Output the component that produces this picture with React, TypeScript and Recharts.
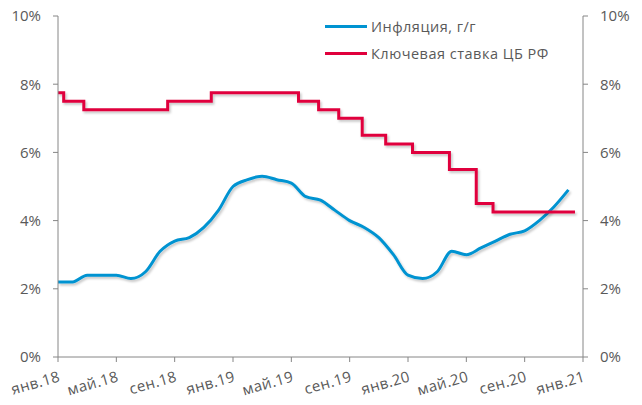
import React from "react";
import { LineChart, Line, XAxis, YAxis } from "recharts";

// Months since "янв.18" (end of Jan 2018)
const inflationMonths = [0,1,2,3,4,5,6,7,8,9,10,11,12,13,14,15,16,17,18,19,20,21,22,23,24,25,26,27,28,29,30,31,32,33,34,35];
const inflationValues = [2.2,2.2,2.4,2.4,2.4,2.3,2.5,3.1,3.4,3.5,3.8,4.3,5.0,5.2,5.3,5.2,5.1,4.7,4.6,4.3,4.0,3.8,3.5,3.0,2.4,2.3,2.5,3.1,3.0,3.2,3.4,3.6,3.7,4.0,4.4,4.9];

const keyRateMonths = [0,0.39,1.77,7.52,10.51,16.49,17.87,19.25,20.86,22.47,24.31,26.84,28.68,29.83,35.45];
const keyRateValues = [7.75,7.5,7.25,7.5,7.75,7.5,7.25,7.0,6.5,6.25,6.0,5.5,4.5,4.25,4.25];

const xTicks = [0,4,8,12,16,20,24,28,32,36];
const xTickLabels = ["янв.18","май.18","сен.18","янв.19","май.19","сен.19","янв.20","май.20","сен.20","янв.21"];
const yTicks = [0,2,4,6,8,10];

const seriesNames = ["Инфляция, г/г", "Ключевая ставка ЦБ РФ"];
const BLUE = "#0093D1";
const RED = "#E0003C";
const AXIS = "#868686";
const TEXT = "#595959";
const FONT = "'Open Sans', 'Noto Sans', sans-serif";

const inflationData = inflationMonths.map((m, i) => ({ x: m, v: inflationValues[i] }));
const keyRateData = keyRateMonths.map((m, i) => ({ x: m, v: keyRateValues[i] }));

const XTick = (props: any) => {
  const { x, y, payload } = props;
  const idx = xTicks.indexOf(payload.value);
  const label = idx >= 0 ? xTickLabels[idx] : "";
  const ax = x + 3;
  const ay = y + 19;
  return (
    <text
      x={ax}
      y={ay}
      transform={`rotate(-16, ${ax}, ${ay})`}
      textAnchor="end"
      fill={TEXT}
      fontSize={15}
      letterSpacing={0.4}
      fontFamily={FONT}
    >
      {label}
    </text>
  );
};

const LegendBox = () => (
  <div
    style={{
      position: "absolute",
      left: 325,
      top: 13,
      fontFamily: FONT,
      fontSize: 14.5,
      letterSpacing: 0.5,
      color: TEXT,
      pointerEvents: "none",
    }}
  >
    {[BLUE, RED].map((c, i) => (
      <div key={i} style={{ display: "flex", alignItems: "center", height: 27 }}>
        <div style={{ width: 42, height: 3, background: c, marginRight: 4 }} />
        <span>{seriesNames[i]}</span>
      </div>
    ))}
  </div>
);

export default function App() {
  return (
    <div style={{ position: "absolute", left: 0, top: 0, width: 642, height: 405, background: "#fff" }}>
      <svg width={0} height={0} style={{ position: "absolute" }}>
        <defs>
          <filter id="lineShadow" x="-5%" y="-5%" width="110%" height="120%">
            <feDropShadow dx={1.5} dy={2} stdDeviation={1.2} floodColor="#000" floodOpacity={0.22} />
          </filter>
        </defs>
      </svg>
      <LineChart
        width={642}
        height={405}
        margin={{ top: 16, right: 0, bottom: 0, left: 0 }}
      >
        <XAxis
          dataKey="x"
          type="number"
          domain={[0, 36]}
          ticks={xTicks}
          interval={0}
          allowDataOverflow
          height={48}
          stroke={AXIS}
          tickSize={5}
          tickMargin={0}
          tick={<XTick />}
        />
        <YAxis
          yAxisId="left"
          orientation="left"
          type="number"
          domain={[0, 10]}
          ticks={yTicks}
          interval={0}
          width={58}
          stroke={AXIS}
          tickSize={5}
          tickMargin={12}
          tickFormatter={(v: number) => `${v}%`}
          tick={{ fill: TEXT, fontSize: 15, fontFamily: FONT }}
        />
        <YAxis
          yAxisId="right"
          orientation="right"
          type="number"
          domain={[0, 10]}
          ticks={yTicks}
          interval={0}
          width={59}
          stroke={AXIS}
          tickSize={5}
          tickMargin={12}
          tickFormatter={(v: number) => `${v}%`}
          tick={{ fill: TEXT, fontSize: 15, fontFamily: FONT }}
        />
        <Line
          yAxisId="left"
          data={inflationData}
          dataKey="v"
          name={seriesNames[0]}
          type="monotone"
          stroke={BLUE}
          strokeWidth={3}
          dot={false}
          filter="url(#lineShadow)"
          isAnimationActive={false}
        />
        <Line
          yAxisId="right"
          data={keyRateData}
          dataKey="v"
          name={seriesNames[1]}
          type="stepAfter"
          stroke={RED}
          strokeWidth={3}
          dot={false}
          filter="url(#lineShadow)"
          isAnimationActive={false}
        />
      </LineChart>
      <LegendBox />
    </div>
  );
}
